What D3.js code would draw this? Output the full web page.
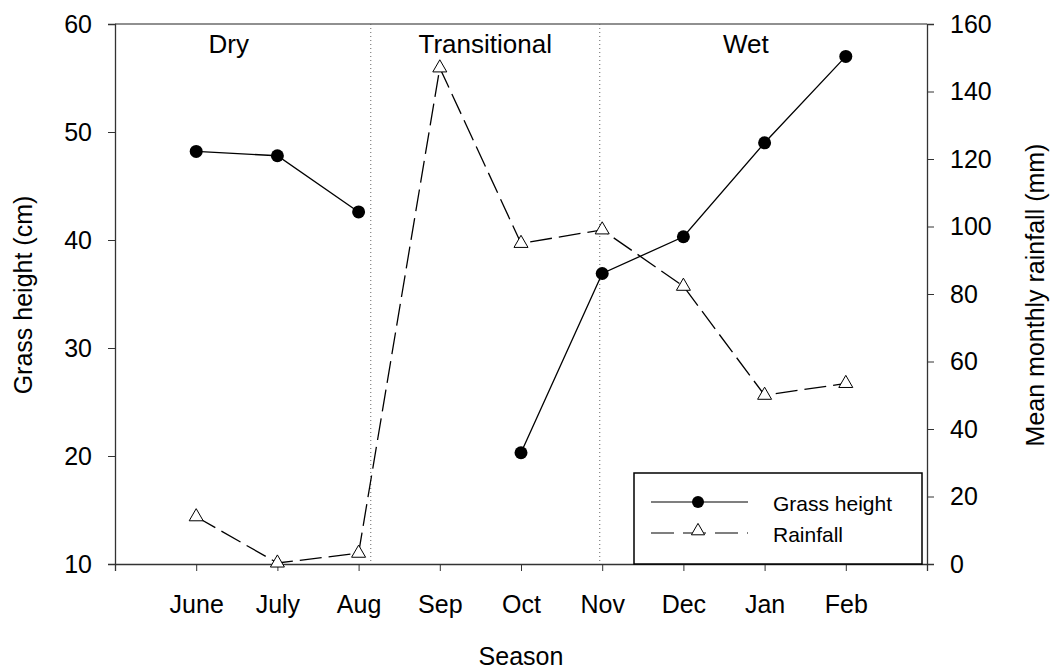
<!DOCTYPE html>
<html lang="en">
<head>
<meta charset="UTF-8">
<title>Grass height and rainfall</title>
<script src="https://cdn.jsdelivr.net/npm/d3@7"></script>
<style>
  body { margin: 0; background: #fff; }
  text { font-family: "Liberation Sans", Arial, sans-serif; fill: #000; }
</style>
</head>
<body>
<div id="chart"></div>
<script>
    var months = ['June', 'July', 'Aug', 'Sep', 'Oct', 'Nov', 'Dec', 'Jan', 'Feb'];
    // grass height (cm), null = not measured
    var grass = [48.2, 47.8, 42.6, null, 20.3, 36.9, 40.3, 49.0, 57.0];
    // mean monthly rainfall (mm)
    var rain = [14, 0.3, 3.2, 147, 95, 99, 82.3, 50, 53.5];
    var leftTicks = [10, 20, 30, 40, 50, 60];
    var rightTicks = [0, 20, 40, 60, 80, 100, 120, 140, 160];
    var seasons = [{name: 'Dry', at: 0.40}, {name: 'Transitional', at: 3.56}, {name: 'Wet', at: 6.77}];
    var dividers = [2.15, 4.97];

    var W = 1052, H = 671;
    var m = {left: 115, right: 927, top: 24, bottom: 564};

    var svg = d3.select('#chart').append('svg')
        .attr('width', W)
        .attr('height', H);

    var x = d3.scalePoint().domain(months).range([m.left, m.right]).padding(1);
    var xi = d3.scaleLinear().domain([0, months.length - 1])
        .range([x(months[0]), x(months[months.length - 1])]);
    var yL = d3.scaleLinear().domain([10, 60]).range([m.bottom, m.top]);
    var yR = d3.scaleLinear().domain([0, 160]).range([m.bottom, m.top]);

    // frame top line
    svg.append('line')
        .attr('x1', m.left).attr('x2', m.right)
        .attr('y1', m.top).attr('y2', m.top)
        .attr('stroke', '#222').attr('stroke-width', 1.2);

    var axisStyle = function(g){
        g.attr('font-size', null).attr('font-family', null);
        g.selectAll('path').attr('stroke', '#333').attr('stroke-width', 1.3);
        g.selectAll('line').attr('stroke', '#333').attr('stroke-width', 1);
        g.selectAll('text').style('font-size', '25px');
    };

    svg.append('g')
        .attr('transform', 'translate(0,' + m.bottom + ')')
        .call(d3.axisBottom(x).tickSizeOuter(0).tickSize(7).tickPadding(24))
        .call(axisStyle);

    svg.append('g')
        .attr('transform', 'translate(' + m.left + ',0)')
        .call(d3.axisLeft(yL).tickValues(leftTicks).tickSizeOuter(0).tickSize(7).tickPadding(16))
        .call(axisStyle);

    svg.append('g')
        .attr('transform', 'translate(' + m.right + ',0)')
        .call(d3.axisRight(yR).tickValues(rightTicks).tickSizeOuter(0).tickSize(7).tickPadding(16))
        .call(axisStyle);

    // season dividers
    svg.selectAll('.divider').data(dividers).enter().append('line')
        .attr('class', 'divider')
        .attr('x1', function(d){ return xi(d); })
        .attr('x2', function(d){ return xi(d); })
        .attr('y1', m.top).attr('y2', m.bottom)
        .attr('stroke', '#666').attr('stroke-width', 1)
        .attr('stroke-dasharray', '1,3');

    svg.selectAll('.season').data(seasons).enter().append('text')
        .attr('class', 'season')
        .attr('x', function(d){ return xi(d.at); })
        .attr('y', 53)
        .attr('text-anchor', 'middle')
        .style('font-size', '26px')
        .text(function(d){ return d.name; });

    // rainfall line
    var rainLine = d3.line()
        .x(function(d, i){ return x(months[i]); })
        .y(function(d){ return yR(d); });

    svg.append('path')
        .datum(rain)
        .attr('d', rainLine)
        .attr('fill', 'none')
        .attr('stroke', '#000')
        .attr('stroke-width', 1.3)
        .attr('stroke-dasharray', '22,7');

    // grass line
    var grassLine = d3.line()
        .defined(function(d){ return d !== null; })
        .x(function(d, i){ return x(months[i]); })
        .y(function(d){ return yL(d); });

    svg.append('path')
        .datum(grass)
        .attr('d', grassLine)
        .attr('fill', 'none')
        .attr('stroke', '#000')
        .attr('stroke-width', 1.3);

    var tri = d3.symbol().type(d3.symbolTriangle).size(85);

    svg.selectAll('.tri').data(rain).enter().append('path')
        .attr('class', 'tri')
        .attr('d', tri)
        .attr('transform', function(d, i){ return 'translate(' + x(months[i]) + ',' + yR(d) + ')'; })
        .attr('fill', '#fff').attr('stroke', '#000').attr('stroke-width', 1);

    svg.selectAll('.dot').data(grass.map(function(v, i){ return {v: v, m: months[i]}; })
            .filter(function(d){ return d.v !== null; }))
        .enter().append('circle')
        .attr('class', 'dot')
        .attr('cx', function(d){ return x(d.m); })
        .attr('cy', function(d){ return yL(d.v); })
        .attr('r', 6.5)
        .attr('fill', '#000');

    // legend
    var lg = svg.append('g');
    lg.append('rect')
        .attr('x', 634).attr('y', 473)
        .attr('width', 288).attr('height', 91)
        .attr('fill', '#fff').attr('stroke', '#000').attr('stroke-width', 1.5);

    lg.append('line').attr('x1', 651).attr('x2', 748).attr('y1', 502).attr('y2', 502)
        .attr('stroke', '#000').attr('stroke-width', 1.2);
    lg.append('circle').attr('cx', 698).attr('cy', 502).attr('r', 6).attr('fill', '#000');
    lg.append('line').attr('x1', 651).attr('x2', 748).attr('y1', 533).attr('y2', 533)
        .attr('stroke', '#000').attr('stroke-width', 1.2).attr('stroke-dasharray', '23,9');
    lg.append('path').attr('d', d3.symbol().type(d3.symbolTriangle).size(75))
        .attr('transform', 'translate(698,531)')
        .attr('fill', '#fff').attr('stroke', '#000').attr('stroke-width', 1);

    lg.append('text').attr('x', 773).attr('y', 511).style('font-size', '21px').text('Grass height');
    lg.append('text').attr('x', 773).attr('y', 542).style('font-size', '21px').text('Rainfall');

    // axis titles
    svg.append('text')
        .attr('x', 521).attr('y', 665)
        .attr('text-anchor', 'middle')
        .style('font-size', '25px')
        .text('Season');

    svg.append('text')
        .attr('transform', 'translate(32,295) rotate(-90)')
        .attr('text-anchor', 'middle')
        .style('font-size', '25px')
        .text('Grass height (cm)');

    svg.append('text')
        .attr('transform', 'translate(1044,295) rotate(-90)')
        .attr('text-anchor', 'middle')
        .style('font-size', '25px')
        .text('Mean monthly rainfall (mm)');
</script>
</body>
</html>
